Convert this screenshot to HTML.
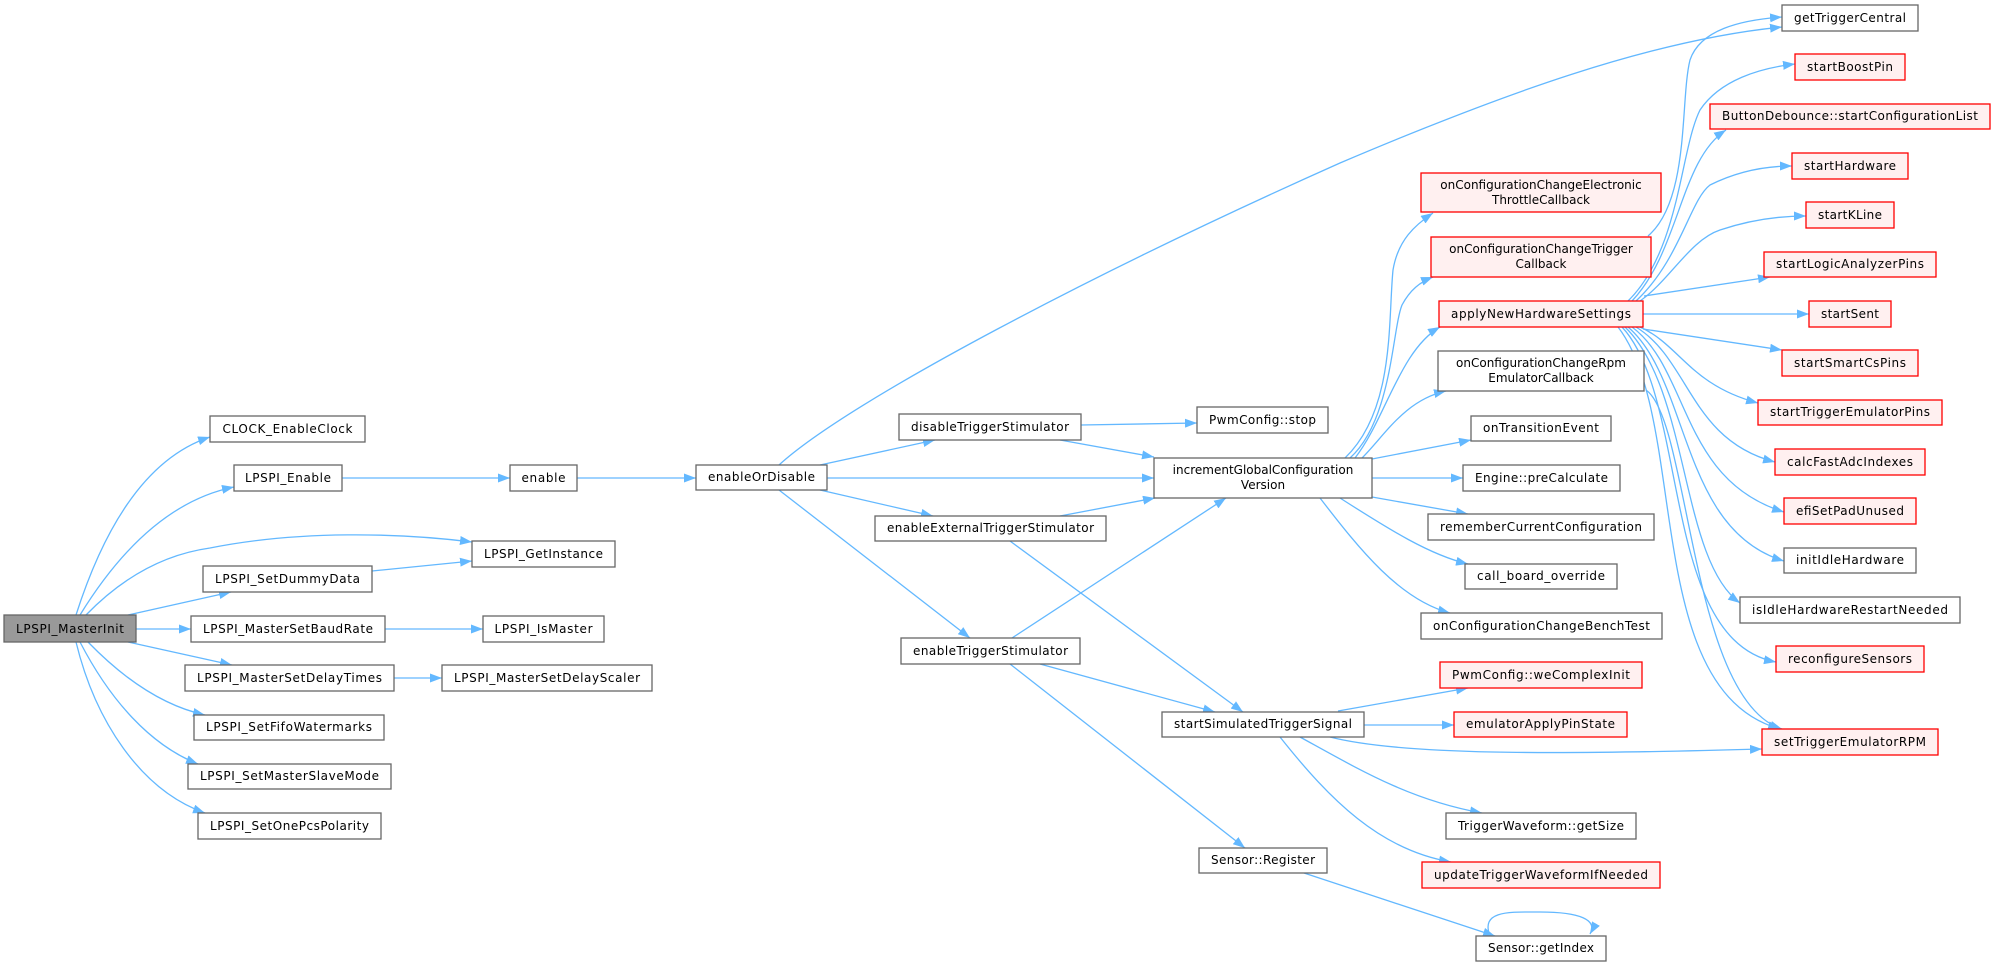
<!DOCTYPE html>
<html><head><meta charset="utf-8"><style>
html,body{margin:0;padding:0;background:#fff;}
svg{display:block;}
text{font-family:"DejaVu Sans","Liberation Sans",sans-serif;font-size:12px;fill:#000;}
.n{fill:#fff;stroke:#666;stroke-width:1.3;}
.r{fill:#fff0f0;stroke:#ff0000;stroke-width:1.3;}
.g{fill:#999;stroke:#666;stroke-width:1.3;}
.e{fill:none;stroke:#63b8ff;stroke-width:1.3;marker-end:url(#a);}
</style></head><body>
<svg width="1992" height="967" viewBox="0 0 1992 967" xmlns="http://www.w3.org/2000/svg">
<defs><marker id="a" markerUnits="userSpaceOnUse" markerWidth="12" markerHeight="9" refX="12" refY="4.5" orient="auto"><path d="M0,0 L12,4.5 L0,9z" fill="#63b8ff"/></marker></defs>

<!-- edges -->
<path class="e" d="M76,615 C100,540 140,460 210,437"/>
<path class="e" d="M80,615 C120,550 170,500 234,487"/>
<path class="e" d="M86,615 C120,580 160,555 210,548 C300,530 400,533 472,542"/>
<path class="e" d="M128,615 L231,592"/>
<path class="e" d="M136,629 L191,629"/>
<path class="e" d="M128,642 L232,665"/>
<path class="e" d="M88,642 C120,675 160,705 205,715"/>
<path class="e" d="M80,642 C110,700 150,745 198,764"/>
<path class="e" d="M76,642 C95,720 140,790 205,813"/>
<path class="e" d="M342,478 L510,478"/>
<path class="e" d="M372,571 L472,561"/>
<path class="e" d="M385,629 L483,629"/>
<path class="e" d="M394,678 L442,678"/>
<path class="e" d="M577,478 L696,478"/>
<path class="e" d="M779,465 C850,400 1100,270 1340,163 C1500,95 1650,40 1782,27"/>
<path class="e" d="M820,465 L935,440"/>
<path class="e" d="M827,478 L1154,478"/>
<path class="e" d="M820,490 L933,516"/>
<path class="e" d="M779,490 L970,638"/>
<path class="e" d="M1081,425 L1197,423"/>
<path class="e" d="M1060,440 L1154,457"/>
<path class="e" d="M1060,516 L1155,498"/>
<path class="e" d="M1010,541 L1243,712"/>
<path class="e" d="M1012,638 L1226,498"/>
<path class="e" d="M1040,664 L1215,712"/>
<path class="e" d="M1010,664 L1245,848"/>
<path class="e" d="M1345,458 C1395,410 1388,320 1393,270 C1398,240 1415,225 1433,213"/>
<path class="e" d="M1350,458 C1392,420 1392,330 1402,305 C1410,290 1420,282 1433,277"/>
<path class="e" d="M1355,458 C1385,420 1400,350 1440,327"/>
<path class="e" d="M1362,458 C1385,435 1405,400 1446,391"/>
<path class="e" d="M1372,459 L1471,440"/>
<path class="e" d="M1372,478 L1463,478"/>
<path class="e" d="M1372,497 L1468,514"/>
<path class="e" d="M1340,498 C1390,530 1430,555 1468,564"/>
<path class="e" d="M1320,498 C1360,550 1400,600 1450,613"/>
<path class="e" d="M1648,236 C1690,200 1680,100 1690,60 C1700,30 1740,20 1782,17"/>
<path class="e" d="M1628,301 C1680,250 1680,150 1700,110 C1720,80 1760,68 1795,64"/>
<path class="e" d="M1632,301 C1680,250 1680,160 1726,130"/>
<path class="e" d="M1636,301 C1680,260 1690,200 1710,185 C1740,170 1770,166 1792,166"/>
<path class="e" d="M1640,301 C1670,280 1690,240 1720,230 C1750,220 1780,216 1806,216"/>
<path class="e" d="M1644,296 L1770,277"/>
<path class="e" d="M1643,314 L1809,314"/>
<path class="e" d="M1643,329 L1782,350"/>
<path class="e" d="M1640,327 C1680,345 1690,385 1758,403"/>
<path class="e" d="M1636,327 C1690,360 1690,440 1775,462"/>
<path class="e" d="M1632,327 C1690,370 1680,480 1784,512"/>
<path class="e" d="M1628,327 C1690,380 1680,530 1784,561"/>
<path class="e" d="M1625,327 C1690,390 1680,560 1740,603"/>
<path class="e" d="M1622,327 C1690,400 1660,640 1776,662"/>
<path class="e" d="M1618,327 C1690,420 1640,690 1780,729"/>
<path class="e" d="M1646,390 C1690,420 1690,700 1782,729"/>
<path class="e" d="M1338,711 L1468,688"/>
<path class="e" d="M1364,725 L1454,725"/>
<path class="e" d="M1330,737 C1400,755 1550,755 1762,749"/>
<path class="e" d="M1300,737 C1360,770 1410,800 1482,813"/>
<path class="e" d="M1280,737 C1330,800 1380,850 1451,862"/>
<path class="e" d="M1304,873 L1495,936"/>
<path class="e" d="M1490,936 C1480,910 1510,912 1540,912 C1580,912 1598,920 1590,934"/>

<!-- nodes -->
<rect class="g" x="4" y="615" width="132" height="27"/><text x="70" y="633" text-anchor="middle" textLength="108">LPSPI_MasterInit</text>
<rect class="n" x="210" y="416" width="155" height="26"/><text x="287.5" y="433" text-anchor="middle" textLength="130">CLOCK_EnableClock</text>
<rect class="n" x="234" y="465" width="108" height="26"/><text x="288" y="482" text-anchor="middle" textLength="86">LPSPI_Enable</text>
<rect class="n" x="510" y="465" width="67" height="26"/><text x="543.5" y="482" text-anchor="middle" textLength="44">enable</text>
<rect class="n" x="472" y="541" width="143" height="26"/><text x="543.5" y="558" text-anchor="middle" textLength="119">LPSPI_GetInstance</text>
<rect class="n" x="203" y="566" width="169" height="26"/><text x="287.5" y="583" text-anchor="middle" textLength="145">LPSPI_SetDummyData</text>
<rect class="n" x="191" y="616" width="194" height="26"/><text x="288" y="633" text-anchor="middle" textLength="170">LPSPI_MasterSetBaudRate</text>
<rect class="n" x="483" y="616" width="121" height="26"/><text x="543.5" y="633" text-anchor="middle" textLength="98">LPSPI_IsMaster</text>
<rect class="n" x="185" y="665" width="209" height="26"/><text x="289.5" y="682" text-anchor="middle" textLength="185">LPSPI_MasterSetDelayTimes</text>
<rect class="n" x="442" y="665" width="210" height="26"/><text x="547" y="682" text-anchor="middle" textLength="186">LPSPI_MasterSetDelayScaler</text>
<rect class="n" x="194" y="715" width="190" height="25"/><text x="289" y="731" text-anchor="middle" textLength="166">LPSPI_SetFifoWatermarks</text>
<rect class="n" x="188" y="764" width="203" height="25"/><text x="289.5" y="780" text-anchor="middle" textLength="179">LPSPI_SetMasterSlaveMode</text>
<rect class="n" x="198" y="813" width="183" height="26"/><text x="289.5" y="830" text-anchor="middle" textLength="159">LPSPI_SetOnePcsPolarity</text>

<rect class="n" x="696" y="465" width="131" height="25"/><text x="761.5" y="481" text-anchor="middle" textLength="107">enableOrDisable</text>
<rect class="n" x="899" y="414" width="182" height="26"/><text x="990" y="431" text-anchor="middle" textLength="158">disableTriggerStimulator</text>
<rect class="n" x="1197" y="407" width="131" height="26"/><text x="1262.5" y="424" text-anchor="middle" textLength="107">PwmConfig::stop</text>
<rect class="n" x="1154" y="458" width="218" height="40"/><text x="1263" y="474" text-anchor="middle">incrementGlobalConfiguration</text><text x="1263" y="489" text-anchor="middle">Version</text>
<rect class="n" x="875" y="516" width="231" height="25"/><text x="990.5" y="532" text-anchor="middle" textLength="207">enableExternalTriggerStimulator</text>
<rect class="n" x="901" y="638" width="179" height="26"/><text x="990.5" y="655" text-anchor="middle" textLength="155">enableTriggerStimulator</text>
<rect class="n" x="1162" y="712" width="202" height="25"/><text x="1263" y="728" text-anchor="middle" textLength="178">startSimulatedTriggerSignal</text>
<rect class="n" x="1199" y="848" width="128" height="25"/><text x="1263" y="864" text-anchor="middle" textLength="104">Sensor::Register</text>

<rect class="r" x="1421" y="173" width="240" height="39"/><text x="1541" y="189" text-anchor="middle">onConfigurationChangeElectronic</text><text x="1541" y="204" text-anchor="middle">ThrottleCallback</text>
<rect class="r" x="1431" y="237" width="220" height="40"/><text x="1541" y="253" text-anchor="middle">onConfigurationChangeTrigger</text><text x="1541" y="268" text-anchor="middle">Callback</text>
<rect class="r" x="1439" y="301" width="204" height="26"/><text x="1541" y="318" text-anchor="middle" textLength="180">applyNewHardwareSettings</text>
<rect class="n" x="1438" y="351" width="206" height="40"/><text x="1541" y="367" text-anchor="middle">onConfigurationChangeRpm</text><text x="1541" y="382" text-anchor="middle">EmulatorCallback</text>
<rect class="n" x="1471" y="416" width="140" height="25"/><text x="1541" y="432" text-anchor="middle" textLength="116">onTransitionEvent</text>
<rect class="n" x="1463" y="465" width="157" height="26"/><text x="1541.5" y="482" text-anchor="middle" textLength="133">Engine::preCalculate</text>
<rect class="n" x="1428" y="514" width="226" height="26"/><text x="1541" y="531" text-anchor="middle" textLength="202">rememberCurrentConfiguration</text>
<rect class="n" x="1465" y="564" width="152" height="25"/><text x="1541" y="580" text-anchor="middle" textLength="128">call_board_override</text>
<rect class="n" x="1421" y="613" width="241" height="26"/><text x="1541.5" y="630" text-anchor="middle" textLength="217">onConfigurationChangeBenchTest</text>
<rect class="r" x="1440" y="662" width="202" height="26"/><text x="1541" y="679" text-anchor="middle" textLength="178">PwmConfig::weComplexInit</text>
<rect class="r" x="1454" y="712" width="173" height="25"/><text x="1540.5" y="728" text-anchor="middle" textLength="149">emulatorApplyPinState</text>
<rect class="n" x="1446" y="813" width="190" height="26"/><text x="1541" y="830" text-anchor="middle" textLength="166">TriggerWaveform::getSize</text>
<rect class="r" x="1422" y="862" width="238" height="26"/><text x="1541" y="879" text-anchor="middle" textLength="214">updateTriggerWaveformIfNeeded</text>
<rect class="n" x="1476" y="936" width="130" height="25"/><text x="1541" y="952" text-anchor="middle" textLength="106">Sensor::getIndex</text>

<rect class="n" x="1782" y="5" width="136" height="26"/><text x="1850" y="22" text-anchor="middle" textLength="112">getTriggerCentral</text>
<rect class="r" x="1795" y="54" width="110" height="26"/><text x="1850" y="71" text-anchor="middle" textLength="86">startBoostPin</text>
<rect class="r" x="1710" y="104" width="280" height="25"/><text x="1850" y="120" text-anchor="middle" textLength="256">ButtonDebounce::startConfigurationList</text>
<rect class="r" x="1792" y="153" width="116" height="26"/><text x="1850" y="170" text-anchor="middle" textLength="92">startHardware</text>
<rect class="r" x="1806" y="202" width="88" height="26"/><text x="1850" y="219" text-anchor="middle" textLength="64">startKLine</text>
<rect class="r" x="1764" y="252" width="172" height="25"/><text x="1850" y="268" text-anchor="middle" textLength="148">startLogicAnalyzerPins</text>
<rect class="r" x="1809" y="301" width="82" height="26"/><text x="1850" y="318" text-anchor="middle" textLength="58">startSent</text>
<rect class="r" x="1782" y="350" width="136" height="26"/><text x="1850" y="367" text-anchor="middle" textLength="112">startSmartCsPins</text>
<rect class="r" x="1758" y="400" width="184" height="25"/><text x="1850" y="416" text-anchor="middle" textLength="160">startTriggerEmulatorPins</text>
<rect class="r" x="1775" y="449" width="150" height="26"/><text x="1850" y="466" text-anchor="middle" textLength="126">calcFastAdcIndexes</text>
<rect class="r" x="1784" y="498" width="132" height="26"/><text x="1850" y="515" text-anchor="middle" textLength="108">efiSetPadUnused</text>
<rect class="n" x="1784" y="548" width="132" height="25"/><text x="1850" y="564" text-anchor="middle" textLength="108">initIdleHardware</text>
<rect class="n" x="1740" y="597" width="220" height="26"/><text x="1850" y="614" text-anchor="middle" textLength="196">isIdleHardwareRestartNeeded</text>
<rect class="r" x="1776" y="646" width="148" height="26"/><text x="1850" y="663" text-anchor="middle" textLength="124">reconfigureSensors</text>
<rect class="r" x="1762" y="729" width="176" height="26"/><text x="1850" y="746" text-anchor="middle" textLength="152">setTriggerEmulatorRPM</text>
</svg>
</body></html>
